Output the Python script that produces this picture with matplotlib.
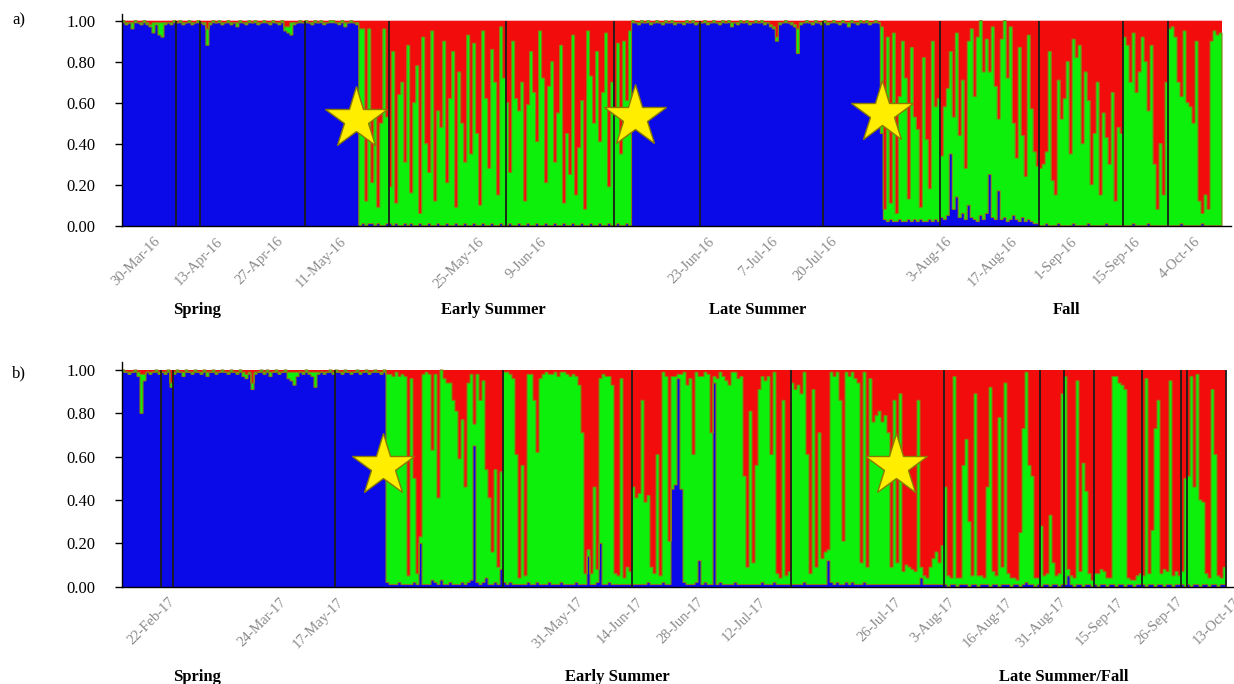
import numpy as np
import matplotlib.pyplot as plt

plt.rcParams['font.family'] = ['Liberation Serif', 'DejaVu Serif']

# ancestry proportions per individual (percent), one list per cluster
# panel a) 2016
blue_a = [
    99, 98, 99, 96, 99, 99, 98, 99, 98, 97, 94, 98, 93, 92, 98, 99, 98, 99,
    99, 99, 98, 99, 99, 98, 99, 99,
    99, 98, 88, 98, 99, 99, 99, 98, 99, 99, 98, 99, 97, 99, 99, 98, 99, 99,
    99, 98, 99, 99, 99, 98, 99, 99, 98, 99, 95, 94, 93, 98, 99, 99, 99,
    99, 99, 98, 99, 99, 99, 98, 99, 99, 99, 99, 98, 99, 97, 99, 99, 99, 98,
    0, 1, 0, 1, 1, 0, 1, 0, 0, 1,
    1, 0, 1, 0, 0, 1, 0, 1, 0, 0, 1, 0, 0, 1, 0, 0, 1, 0, 0, 1,
    0, 0, 1, 0, 0, 1, 0, 0, 1, 0, 0, 1, 0, 0, 1, 0, 0, 1, 0,
    0, 1, 0, 0, 1, 0, 0, 1, 0, 0, 1, 0, 0, 1, 0, 0, 1, 0, 0, 1,
    0, 0, 1, 0, 0, 1, 0, 0, 1, 0, 0, 1, 0, 0, 1, 0,
    0, 1, 0, 0, 1, 0,
    99, 99, 98, 99, 99, 99, 98, 99, 99, 99, 98, 99, 99, 99, 98, 99, 99, 98,
    99, 99, 99, 98, 99,
    99, 99, 98, 99, 99, 99, 98, 99, 99, 99, 97, 99, 98, 99, 99, 99, 98, 99,
    99, 99, 99, 98, 99, 97, 96, 90, 98, 99, 99, 99, 98, 97, 84, 98, 99, 99,
    99, 98, 99, 99, 98,
    99, 98, 99, 99, 99, 98, 99, 99, 97, 99, 99, 98, 99, 99, 99, 98, 99, 99,
    99, 45,
    3, 2, 3, 2, 2, 3, 2, 2, 3, 2, 3, 2, 3, 2, 2, 3, 2, 3, 2,
    4, 3, 5, 35, 8, 14, 4, 6, 3, 10, 4, 3, 2, 5, 3, 6, 25, 4, 3, 17, 3, 4,
    2, 3, 5, 3, 2, 4, 2, 3, 2, 1, 1,
    0, 0, 1, 0, 0, 0, 1, 0, 0, 0, 0, 1, 0, 0, 0, 0, 1, 0, 0, 0, 0, 0, 1, 0,
    0, 0, 0, 0,
    0, 0, 0, 1, 0, 0, 0, 0, 1, 0, 0, 0, 0, 0, 0,
    0, 0, 0, 0, 1, 0, 0, 0, 0, 0, 0, 1, 0, 0, 0, 0, 0, 0,
]
green_a = [
    1, 1, 0, 3, 1, 0, 1, 1, 1, 1, 5, 1, 6, 7, 1, 0, 1, 1,
    0, 1, 1, 0, 1, 1, 0, 1,
    0, 1, 8, 1, 1, 0, 1, 1, 0, 1, 1, 0, 2, 1, 0, 1, 1, 0, 1, 1, 0, 1, 0, 1,
    1, 0, 1, 1, 2, 3, 6, 1, 0, 1, 0,
    1, 0, 1, 1, 0, 1, 1, 0, 1, 1, 0, 1, 1, 2, 0, 1, 0, 1,
    96, 95, 12, 95, 20, 55, 8, 50, 96, 52,
    18, 85, 10, 64, 70, 30, 88, 15, 60, 78, 5, 92, 40, 25, 95, 12, 55, 48,
    90, 20, 62, 85, 8, 75, 50, 30, 93, 35, 88, 45, 10, 94, 62, 28, 85, 70,
    15, 96, 72,
    60, 25, 90, 62, 55, 70, 12, 58, 85, 65, 40, 95, 72, 20, 68, 80, 30, 55,
    88, 10, 45, 25, 92, 15, 38, 60, 8, 95, 72, 50, 85, 40, 65, 94, 18, 70,
    55, 88, 35, 90, 60, 95,
    1, 0, 1, 1, 0, 1, 1, 0, 1, 0, 1, 1, 0, 1, 1, 0, 0, 1, 1, 0, 1, 1, 0,
    0, 1, 1, 0, 1, 0, 1, 1, 0, 1, 2, 0, 1, 1, 0, 1, 1, 0, 1, 0, 1, 1, 0, 1,
    1, 2, 1, 0, 1, 0, 1, 1, 12, 1, 0, 1, 0, 1, 1, 0, 1,
    1, 1, 0, 1, 0, 1, 1, 0, 2, 1, 0, 1, 1, 0, 1, 1, 0, 1, 0, 52,
    5, 90, 8, 92, 4, 60, 88, 70, 10, 85, 50, 45, 6, 80, 40, 15, 88, 55, 60,
    30, 55, 62, 50, 45, 80, 40, 65, 25, 80, 92, 60, 90, 95, 72, 85, 50, 93,
    65, 35, 88, 96, 70, 94, 45, 30, 85, 40, 22, 90, 55, 35, 28,
    28, 30, 35, 85, 22, 15, 70, 52, 62, 80, 35, 90, 82, 88, 40, 75, 60, 20,
    45, 70, 15, 55, 42, 30, 65, 12, 48, 45,
    92, 88, 70, 93, 65, 75, 92, 80, 55, 88, 30, 8, 40, 15, 70,
    96, 97, 92, 70, 62, 95, 60, 58, 50, 90, 12, 5, 15, 8, 90, 95, 93, 94,
]
breaks_a = [18, 26, 61, 89, 128, 164, 193, 234, 273, 306, 334, 349]
ticks_a = [12, 33, 53, 74, 120, 141, 197, 218, 238, 276, 298, 318, 339, 359]
labels_a = ["30-Mar-16", "13-Apr-16", "27-Apr-16", "11-May-16", "25-May-16",
            "9-Jun-16", "23-Jun-16", "7-Jul-16", "20-Jul-16", "3-Aug-16",
            "17-Aug-16", "1-Sep-16", "15-Sep-16", "4-Oct-16"]
seasons_a = ["Spring", "Early Summer", "Late Summer", "Fall"]
season_x_a = [25, 124, 212, 315]
star_x_a = [78, 171, 253.5]
star_y_a = [0.52, 0.53, 0.55]

# panel b) 2017
blue_b = [
    99, 99, 98, 99, 99, 97, 80, 95, 99, 98, 99, 99, 98,
    99, 98, 99, 92,
    98, 99, 99, 97, 99, 99, 98, 99, 99, 98, 99, 97, 99, 99, 98, 99, 99, 99,
    98, 99, 99, 98, 99, 97, 96, 98, 91, 98, 99, 99, 98, 99, 97, 99, 99, 98,
    99, 99, 96, 95, 93, 97, 99, 98, 99, 98, 97, 92, 98, 99, 98, 99, 99, 98,
    99, 99, 98, 99, 99, 98, 99, 99, 98, 99, 99, 98, 99, 99, 99, 98, 99,
    2, 1, 1, 1, 2, 1, 1, 1, 1, 2, 1, 20, 1, 1, 1, 3, 2, 1, 3, 1, 1, 2, 1, 1,
    1, 2, 1, 2, 3, 65, 2, 1, 2, 4, 1, 1, 2, 1, 8,
    2, 1, 2, 1, 1, 1, 1, 1, 2, 1, 1, 2, 1, 1, 1, 2, 1, 1, 1, 2, 1, 1, 1, 1,
    2, 1, 1, 1, 14, 1, 1, 2, 20, 1, 1, 2, 1, 1, 1, 1, 1, 1, 1,
    1, 1, 1, 1, 1, 2, 1, 1, 1, 1, 2, 1, 1, 45, 47, 96, 45, 2, 1, 1, 1, 2, 12,
    1, 2, 1, 1, 94, 1, 2, 1, 1, 1, 1, 2, 1, 1, 1, 1, 1, 1, 1, 1, 2, 1, 1, 1,
    2, 1, 1, 1, 1, 1,
    1, 1, 1, 1, 2, 1, 1, 1, 1, 1, 1, 1, 12, 2, 1, 2, 1, 1, 2, 1, 2, 1, 1, 1,
    2, 1, 1, 1, 1, 1, 1, 1, 1, 1, 1, 1, 1, 1, 1, 1, 1, 1, 1, 4, 1, 1, 1, 1,
    1, 1, 1,
    1, 0, 1, 1, 0, 1, 1, 1, 0, 1, 1, 0, 1, 1, 1, 0, 1, 1, 0, 1, 1, 1, 0, 1,
    1, 0, 1, 2, 1, 1, 0, 1,
    0, 1, 1, 0, 1, 1, 0, 1,
    1, 5, 1, 0, 1, 1, 0, 1, 1, 0,
    1, 0, 1, 1, 0, 1, 1, 0, 1, 1, 0, 1, 1, 0, 1, 1,
    1, 0, 1, 1, 0, 1, 1, 0, 1, 1, 0, 1, 1,
    1, 0,
    1, 0, 1, 1, 0, 1, 1, 0, 1, 1, 0, 1, 1,
]
green_b = [
    1, 0, 1, 0, 1, 2, 18, 3, 0, 1, 0, 1, 1,
    0, 1, 1, 2,
    1, 1, 0, 2, 1, 0, 1, 1, 0, 1, 1, 2, 0, 1, 1, 0, 1, 0, 1, 1, 0, 1, 1, 2,
    2, 1, 3, 1, 0, 1, 1, 1, 2, 0, 1, 1, 0, 1, 3, 4, 6, 2, 0, 1, 1, 1, 2, 7,
    1, 0, 1, 0, 1, 1,
    1, 0, 1, 1, 0, 1, 0, 1, 1, 0, 1, 1, 0, 1, 0, 1, 1,
    96, 97, 96, 98, 95, 97, 96, 4, 95, 48, 5, 3, 97, 98, 97, 60, 96, 40, 97,
    95, 93, 92, 85, 80, 58, 75, 45, 92, 95, 10, 96, 85, 93, 50, 40, 15, 52,
    8, 45,
    97, 98, 96, 95, 60, 3, 55, 4, 96, 97, 85, 60, 95, 97, 98, 96, 97, 98, 96,
    97, 98, 97, 96, 97, 95, 92, 70, 5, 3, 5, 45, 6, 76, 97, 96, 95, 92, 5, 4,
    95, 3, 8, 6,
    45, 40, 42, 85, 38, 40, 8, 5, 60, 4, 97, 96, 20, 52, 50, 2, 53, 97, 92,
    95, 60, 97, 85, 96, 97, 97, 70, 3, 95, 97, 96, 94, 92, 98, 97, 95, 96,
    50, 8, 80, 10, 55, 90, 95, 94, 96, 60, 97, 5, 3, 85, 4, 6,
    93, 90, 92, 88, 97, 60, 5, 90, 8, 70, 12, 15, 5, 97, 96, 97, 85, 20, 97,
    96, 97, 95, 93, 10, 97, 8, 95, 75, 78, 80, 75, 78, 70, 8, 85, 10, 88, 6,
    9, 8, 7, 6, 85, 5, 4, 3, 8, 12, 15, 10, 18,
    45, 5, 3, 96, 4, 3, 55, 67, 30, 4, 88, 5, 4, 3, 45, 92, 6, 4, 78, 8, 93,
    5, 4, 3, 2, 25, 72, 97, 55, 50, 4, 3,
    28, 4, 5, 33, 10, 4, 6, 88,
    96, 3, 4, 4, 94, 6, 57, 43, 5, 3,
    5, 6, 7, 6, 4, 3, 96, 97, 93, 92, 91, 3, 2, 3, 4, 5,
    4, 96, 5, 25, 73, 85, 5, 8, 6, 94, 5, 6, 4,
    6, 50,
    50, 97, 45, 97, 40, 38, 5, 4, 90, 60, 5, 3, 8,
]
breaks_b = [13, 17, 71, 127, 170, 223, 274, 306, 314, 324, 340, 353, 355, 368]
ticks_b = [17, 54, 73, 153, 173, 193, 214, 259, 277, 296, 314, 333, 353, 372]
labels_b = ["22-Feb-17", "24-Mar-17", "17-May-17", "31-May-17", "14-Jun-17",
            "28-Jun-17", "12-Jul-17", "26-Jul-17", "3-Aug-17", "16-Aug-17",
            "31-Aug-17", "15-Sep-17", "26-Sep-17", "13-Oct-17"]
seasons_b = ["Spring", "Early Summer", "Late Summer/Fall"]
season_x_b = [25, 165, 314]
star_x_b = [87, 258]
star_y_b = [0.557, 0.557]

BLUE = "#0a0ae8"
GREEN = "#0cf00c"
RED = "#f20c0c"
OLIVE = "#8a7a12"
W, H = 1234, 684


def draw_panel(ax, blue, green, breaks, ticks, labels, seasons, season_x,
               star_x, star_y, ytop, label_off, season_off):
    b = np.array(blue) / 100
    g = np.array(green) / 100
    r = np.clip(1 - b - g, 0, None)
    edges = np.arange(len(b) + 1)
    ax.stairs(b, edges, baseline=0, fill=True, facecolor=BLUE,
              linewidth=0, zorder=1)
    ax.stairs(b + g + r, edges, baseline=b + g, fill=True, facecolor=RED,
              linewidth=0, zorder=1)
    ax.stairs(b + g, edges, baseline=b, fill=True, facecolor=GREEN,
              edgecolor=OLIVE, linewidth=0.8, zorder=2)
    ax.vlines(breaks, 0, 1, color="#1c1c1c", linewidth=1.3, zorder=3)
    ax.plot(star_x, star_y, linestyle="none", marker="*", markersize=47,
            markerfacecolor="#ffee00", markeredgecolor="#8a7a00",
            markeredgewidth=1, zorder=4)

    ax.set_xlim(0, len(b) + 3)
    ax.set_ylim(0, ytop)
    ax.set_yticks([0, 0.2, 0.4, 0.6, 0.8, 1.0])
    ax.set_yticklabels([f"{v:.2f}" for v in [0, 0.2, 0.4, 0.6, 0.8, 1.0]])
    ax.tick_params(axis="y", length=5, width=1, pad=14, labelsize=12)
    ax.set_xticks([])
    for side in ["top", "right"]:
        ax.spines[side].set_visible(False)
    for side in ["left", "bottom"]:
        ax.spines[side].set_linewidth(1)

    for pos, lab in zip(ticks, labels):
        ax.annotate(lab, (pos, 0), xycoords=("data", "axes fraction"),
                    xytext=(0, -label_off), textcoords="offset points",
                    rotation=45, rotation_mode="anchor", ha="right",
                    va="center", fontsize=10.5, color="#8a8a8a",
                    annotation_clip=False)
    for pos, lab in zip(season_x, seasons):
        ax.annotate(lab, (pos, 0), xycoords=("data", "axes fraction"),
                    xytext=(0, -season_off), textcoords="offset points",
                    ha="center", va="center", fontsize=12,
                    fontweight="bold", annotation_clip=False)


fig = plt.figure(figsize=(W / 100, H / 100), dpi=100)

n_a = len(blue_a)
n_b = len(blue_b)
px_a = 1100 / n_a
px_b = 1104 / n_b

# panel a: 0.00 at y=225.7 px, 1.00 at 20.7 px
ax_a = fig.add_axes([122 / W, (H - 225.7) / H, (n_a + 3) * px_a / W, 212 / H])
draw_panel(ax_a, blue_a, green_a, breaks_a, ticks_a, labels_a, seasons_a,
           season_x_a, star_x_a, star_y_a, 212 / 205, 10, 61)

# panel b: 0.00 at y=586.7 px, 1.00 at 370 px
ax_b = fig.add_axes([122 / W, (H - 586.7) / H, (n_b + 3) * px_b / W, 224.7 / H])
draw_panel(ax_b, blue_b, green_b, breaks_b, ticks_b, labels_b, seasons_b,
           season_x_b, star_x_b, star_y_b, 224.7 / 216.7, 9.5, 65)

fig.text(12 / W, 1 - 20 / H, "a)", fontsize=12, va="center", ha="left")
fig.text(12 / W, 1 - 373 / H, "b)", fontsize=12, va="center", ha="left")

print(n_a, len(green_a), n_b, len(green_b))
fig.savefig("out.png", dpi=100)
